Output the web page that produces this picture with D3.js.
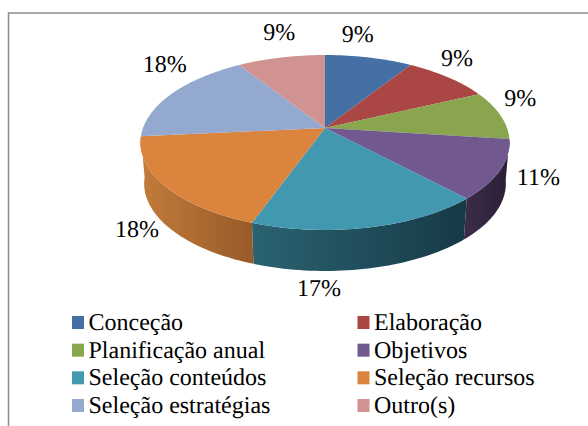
<!DOCTYPE html>
<html>
<head>
<meta charset="utf-8">
<script src="https://cdn.jsdelivr.net/npm/d3@7"></script>
<style>
  html, body { margin: 0; padding: 0; background: #fff; }
  text { font-family: "Liberation Serif", serif; fill: #000; text-rendering: geometricPrecision; }
</style>
</head>
<body>
<svg id="chart" width="588" height="426"></svg>
<script>
const categories = ['Conceção', 'Elaboração', 'Planificação anual', 'Objetivos',
    'Seleção conteúdos', 'Seleção recursos', 'Seleção estratégias', 'Outro(s)'];
const shares = [9, 9, 9, 11, 17.5, 18, 17.5, 9];
const shareLabels = ['9%', '9%', '9%', '11%', '17%', '18%', '18%', '9%'];
const colors = ['#4470a6', '#aa4644', '#89a54e', '#71588f', '#4198af', '#db843d', '#93a9cf', '#d19392'];
const wallLeft = { 3: '#3a2c48', 4: '#2a6272', 5: '#c27c3c' };
const wallRight = { 3: '#2a1f35', 4: '#163a45', 5: '#985a28' };

// pixel nudges of the labels from the top rim, like the hand placed ones in the original
const labelNudge = [[-11, -21], [9, -17], [20, -15], [38, 10], [-50, 63], [-28, 45], [-8, -27], [-2, -23]];

const svg = d3.select('#chart');

// border of the chart box, open at right/bottom like the crop
svg.append('path')
    .attr('d', 'M8.5,426V13H588')
    .attr('fill', 'none')
    .attr('stroke', '#8c8c8c')
    .attr('stroke-width', 1.5);

// tilted disc: homography of the unit circle, front edge is nearer so it looks bigger
const cx = 325, cy = 128, rx = 182, ry = 85.1, tilt = 0.1657;
const wallDrop = 41, wallShrink = 0.98;

function rim(a) {
    const u = Math.sin(a), v = -Math.cos(a), k = 1 - tilt * v;
    return [cx + rx * u / k, cy + ry * v / k];
}
function rimLow(a) {
    const p = rim(a);
    return [cx + (p[0] - cx) * wallShrink, p[1] + wallDrop];
}
function steps(a0, a1) {
    const n = Math.max(2, Math.ceil((a1 - a0) * 40));
    return d3.range(n + 1).map(i => a0 + (a1 - a0) * i / n);
}

const arcs = d3.pie().sort(null).value(d => d)(shares);
const line = d3.line();
const defs = svg.append('defs');

// walls first, only the part of each slice on the front half
const front = [Math.PI * 0.47, Math.PI * 1.53];
arcs.forEach((d, i) => {
    const a0 = Math.max(d.startAngle, front[0]);
    const a1 = Math.min(d.endAngle, front[1]);
    if (a1 <= a0 || !wallLeft[i]) return;
    const top = steps(a0, a1).map(rim);
    const low = steps(a0, a1).map(rimLow).reverse();
    const xs = top.map(p => p[0]);
    const grad = defs.append('linearGradient')
        .attr('id', 'wall' + i)
        .attr('gradientUnits', 'userSpaceOnUse')
        .attr('x1', d3.min(xs)).attr('x2', d3.max(xs))
        .attr('y1', 0).attr('y2', 0);
    grad.append('stop').attr('offset', 0).attr('stop-color', wallLeft[i]);
    grad.append('stop').attr('offset', 1).attr('stop-color', wallRight[i]);
    svg.append('path')
        .attr('d', line(top.concat(low)) + 'Z')
        .attr('fill', 'url(#wall' + i + ')');
});

// top face
svg.append('g').selectAll('path')
    .data(arcs)
    .enter().append('path')
    .attr('d', d => line([[cx, cy]].concat(steps(d.startAngle, d.endAngle).map(rim))) + 'Z')
    .attr('fill', (d, i) => colors[i]);

// percent labels
svg.append('g').selectAll('text')
    .data(arcs)
    .enter().append('text')
    .attr('x', (d, i) => rim((d.startAngle + d.endAngle) / 2)[0] + labelNudge[i][0])
    .attr('y', (d, i) => rim((d.startAngle + d.endAngle) / 2)[1] + labelNudge[i][1])
    .attr('text-anchor', 'middle')
    .attr('dominant-baseline', 'middle')
    .attr('font-size', 24)
    .text((d, i) => shareLabels[i]);

// legend, two columns
const legendX = d3.scalePoint().domain([0, 1]).range([72, 357.5]);
const legendY = d3.scalePoint().domain([0, 1, 2, 3]).range([323, 406]);
const legend = svg.append('g').selectAll('g')
    .data(categories)
    .enter().append('g')
    .attr('transform', (d, i) => 'translate(' + legendX(i % 2) + ',' + legendY(Math.floor(i / 2)) + ')');
legend.append('rect')
    .attr('x', 0).attr('y', -7)
    .attr('width', 12).attr('height', 13)
    .attr('fill', (d, i) => colors[i]);
legend.append('text')
    .attr('x', 16.5)
    .attr('y', 7)
    .attr('font-size', 24)
    .text(d => d);
</script>
</body>
</html>
